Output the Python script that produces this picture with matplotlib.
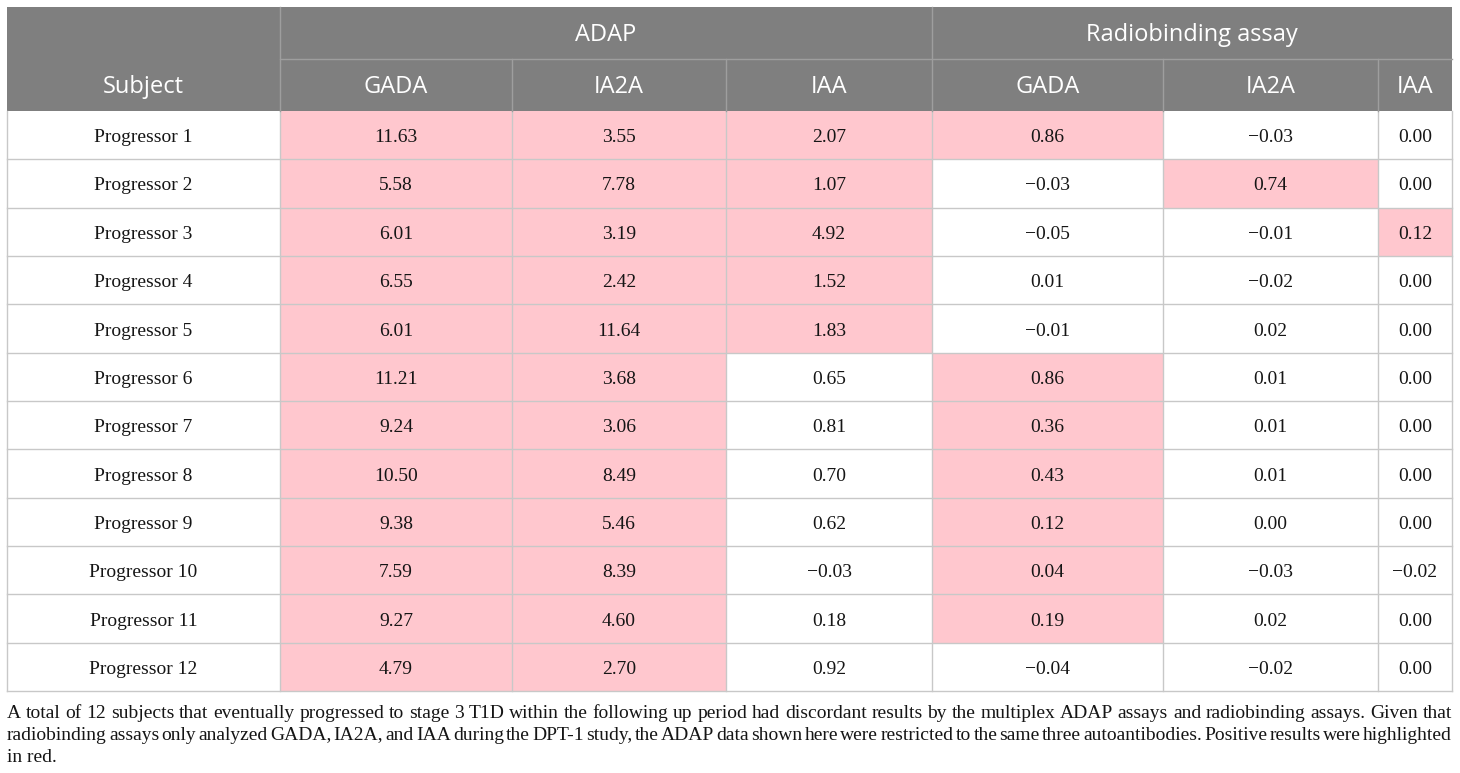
import matplotlib
matplotlib.use("Agg")
import matplotlib.pyplot as plt
from matplotlib.patches import Rectangle

# ---- table data ----
subjects = [f"Progressor {i}" for i in range(1, 13)]
groups = ["ADAP", "Radiobinding assay"]
columns = ["GADA", "IA2A", "IAA", "GADA", "IA2A", "IAA"]

adap_gada = [11.63, 5.58, 6.01, 6.55, 6.01, 11.21, 9.24, 10.50, 9.38, 7.59, 9.27, 4.79]
adap_ia2a = [3.55, 7.78, 3.19, 2.42, 11.64, 3.68, 3.06, 8.49, 5.46, 8.39, 4.60, 2.70]
adap_iaa = [2.07, 1.07, 4.92, 1.52, 1.83, 0.65, 0.81, 0.70, 0.62, -0.03, 0.18, 0.92]
rba_gada = [0.86, -0.03, -0.05, 0.01, -0.01, 0.86, 0.36, 0.43, 0.12, 0.04, 0.19, -0.04]
rba_ia2a = [-0.03, 0.74, -0.01, -0.02, 0.02, 0.01, 0.01, 0.01, 0.00, -0.03, 0.02, -0.02]
rba_iaa = [0.00, 0.00, 0.12, 0.00, 0.00, 0.00, 0.00, 0.00, 0.00, -0.02, 0.00, 0.00]

# positive (highlighted) cells, 1 = positive
pos_adap_gada = [1] * 12
pos_adap_ia2a = [1] * 12
pos_adap_iaa = [1, 1, 1, 1, 1, 0, 0, 0, 0, 0, 0, 0]
pos_rba_gada = [1, 0, 0, 0, 0, 1, 1, 1, 1, 1, 1, 0]
pos_rba_ia2a = [0, 1, 0, 0, 0, 0, 0, 0, 0, 0, 0, 0]
pos_rba_iaa = [0, 0, 1, 0, 0, 0, 0, 0, 0, 0, 0, 0]

caption_lines = [
    "A total of 12 subjects that eventually progressed to stage 3 T1D within the following up period had "
    "discordant results by the multiplex ADAP assays and radiobinding assays. Given that",
    "radiobinding assays only analyzed GADA, IA2A, and IAA during the DPT-1 study, the ADAP data shown here "
    "were restricted to the same three autoantibodies. Positive results were highlighted",
    "in red.",
]

values = [adap_gada, adap_ia2a, adap_iaa, rba_gada, rba_ia2a, rba_iaa]
flags = [pos_adap_gada, pos_adap_ia2a, pos_adap_iaa, pos_rba_gada, pos_rba_ia2a, pos_rba_iaa]

# ---- layout (pixels) ----
W, H = 1460, 773
col_x = [7, 280, 512, 726, 932, 1163, 1378, 1452]
top, head1, head2, bottom = 7, 59, 111, 691
row_h = (bottom - head2) / len(subjects)

header_bg = "#7f7f7f"
header_line = "#9e9e9e"
pink = "#ffc7ce"
grid = "#c8c8c8"
serif = "Liberation Serif"
sans = "Open Sans"

fig = plt.figure(figsize=(W / 100, H / 100), dpi=100)
ax = fig.add_axes([0, 0, 1, 1])
ax.set_xlim(0, W)
ax.set_ylim(H, 0)
ax.axis("off")

# header background
ax.add_patch(Rectangle((col_x[0], top), col_x[-1] - col_x[0], head2 - top,
                       facecolor=header_bg, edgecolor="none"))
# header lines
ax.plot([col_x[1], col_x[-1]], [head1, head1], color=header_line, lw=1)
for x in [col_x[1], col_x[4]]:
    ax.plot([x, x], [top, head2], color=header_line, lw=1)
for x in [col_x[2], col_x[3], col_x[5], col_x[6]]:
    ax.plot([x, x], [head1, head2], color=header_line, lw=1)

hdr = dict(ha="center", va="center", color="white", fontsize=17, family=sans)
ax.text((col_x[0] + col_x[1]) / 2, (head1 + head2) / 2 + 2, "Subject", **hdr)
ax.text((col_x[1] + col_x[4]) / 2, (top + head1) / 2 + 2, groups[0], **hdr)
ax.text((col_x[4] + col_x[7]) / 2, (top + head1) / 2 + 2, groups[1], **hdr)
for j, name in enumerate(columns):
    ax.text((col_x[j + 1] + col_x[j + 2]) / 2, (head1 + head2) / 2 + 2, name, **hdr)

# body cells
body = dict(ha="center", va="center", fontsize=14, family=serif, color="#151515")
for i, subj in enumerate(subjects):
    y0 = head2 + i * row_h
    yc = y0 + row_h / 2 + 2.5
    ax.text((col_x[0] + col_x[1]) / 2, yc, subj, **body)
    for j in range(6):
        x0, x1 = col_x[j + 1], col_x[j + 2]
        if flags[j][i]:
            ax.add_patch(Rectangle((x0, y0), x1 - x0, row_h, facecolor=pink,
                                   edgecolor="none", zorder=0))
        txt = f"{values[j][i]:.2f}".replace("-", "\u2212")
        ax.text((x0 + x1) / 2, yc, txt, **body)

# body grid
for i in range(1, len(subjects) + 1):
    y = head2 + i * row_h
    ax.plot([col_x[0], col_x[-1]], [y, y], color=grid, lw=1, zorder=1)
for x in col_x:
    ax.plot([x, x], [head2, bottom], color=grid, lw=1, zorder=1)

# caption, justified
fig.canvas.draw()
renderer = fig.canvas.get_renderer()
cap_left, cap_right = 7, 1452
cap_y = [713, 735, 757]
cap = dict(ha="left", va="center", fontsize=14, family=serif, color="#151515")
for k, line in enumerate(caption_lines):
    if k == len(caption_lines) - 1:
        ax.text(cap_left, cap_y[k], line, **cap)
        continue
    words = line.split(" ")
    items, widths = [], []
    for w in words:
        t = ax.text(0, cap_y[k], w, **cap)
        widths.append(t.get_window_extent(renderer).width)
        items.append(t)
    gap = (cap_right - cap_left - sum(widths)) / (len(words) - 1)
    x = cap_left
    for t, wd in zip(items, widths):
        t.set_x(x)
        x += wd + gap

fig.savefig("out.png", dpi=100)
